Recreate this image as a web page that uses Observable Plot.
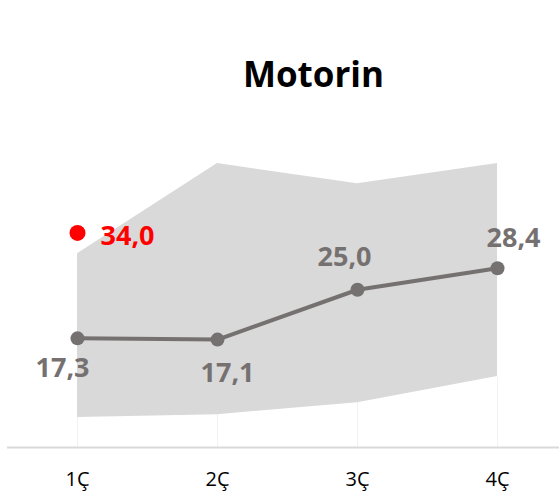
<!DOCTYPE html>
<html>
<head>
<meta charset="utf-8">
<script src="https://cdn.jsdelivr.net/npm/d3@7"></script>
<script src="https://cdn.jsdelivr.net/npm/@observablehq/plot@0.6"></script>
<style>
  body { margin: 0; background: #fff; }
  #chart svg { display: block; }
</style>
</head>
<body>
<div id="chart"></div>
<script>
const title = "Motorin";
const quarters = ["1Ç", "2Ç", "3Ç", "4Ç"];
const actual = [17.3, 17.1, 25.0, 28.4];
const bandLow = [4.75, 5.2, 7.1, 11.25];
const bandHigh = [30.7, 45.0, 41.8, 45.0];
const highlightQuarter = "1Ç";
const highlightValue = 34.0;

const fmt = v => v.toFixed(1).replace(".", ",");
const rows = quarters.map((q, i) => ({q, v: actual[i], lo: bandLow[i], hi: bandHigh[i]}));
const gray = "#767171";
const font = "'Open Sans', sans-serif";

function label(i, dx, dy) {
  return Plot.text([rows[i]], {
    x: "q", y: "v", text: d => fmt(d.v), dx, dy,
    fill: gray, fontSize: 27, fontWeight: "bold", fontFamily: font
  });
}

const plot = Plot.plot({
  width: 559,
  height: 500,
  marginLeft: 7,
  marginRight: 0,
  marginTop: 0,
  marginBottom: 53,
  style: {fontFamily: font, background: "#fff"},
  x: {type: "point", domain: quarters, range: [77, 497], padding: 0},
  y: {domain: [0, 50], range: [447, 447 - 50 * 6.31]},
  marks: [
    Plot.ruleX(rows, {x: "q", y1: 0, y2: "lo", stroke: "#f2f2f2", strokeWidth: 1}),
    Plot.areaY(rows, {x: "q", y1: "lo", y2: "hi", fill: "#d9d9d9", curve: "linear"}),
    Plot.ruleY([0], {stroke: "#d9d9d9", strokeWidth: 2}),
    Plot.line(rows, {x: "q", y: "v", stroke: gray, strokeWidth: 4}),
    Plot.dot(rows, {x: "q", y: "v", r: 7, fill: gray, stroke: "none"}),
    Plot.dot([highlightValue], {x: () => highlightQuarter, y: d => d, r: 8, fill: "#ff0000", stroke: "none"}),
    Plot.text([highlightValue], {x: () => highlightQuarter, y: d => d, text: d => fmt(d), dx: 23, dy: 3,
      textAnchor: "start", fill: "#ff0000", fontSize: 27, fontWeight: "bold", fontFamily: font}),
    label(0, -15, 30),
    label(1, 10, 34),
    label(2, -13, -32),
    label(3, 16, -30),
    Plot.axisX({tickSize: 0, tickPadding: 24, fontSize: 20, fill: "#000", fontFamily: font, label: null}),
    Plot.axisY({ticks: [], label: null})
  ]
});

d3.select(plot).append("text")
  .attr("x", 313.5).attr("y", 86.7)
  .attr("text-anchor", "middle")
  .attr("font-family", font)
  .attr("font-weight", "bold")
  .attr("font-size", 35)
  .attr("fill", "#000")
  .text(title);

document.getElementById("chart").appendChild(plot);
</script>
</body>
</html>
